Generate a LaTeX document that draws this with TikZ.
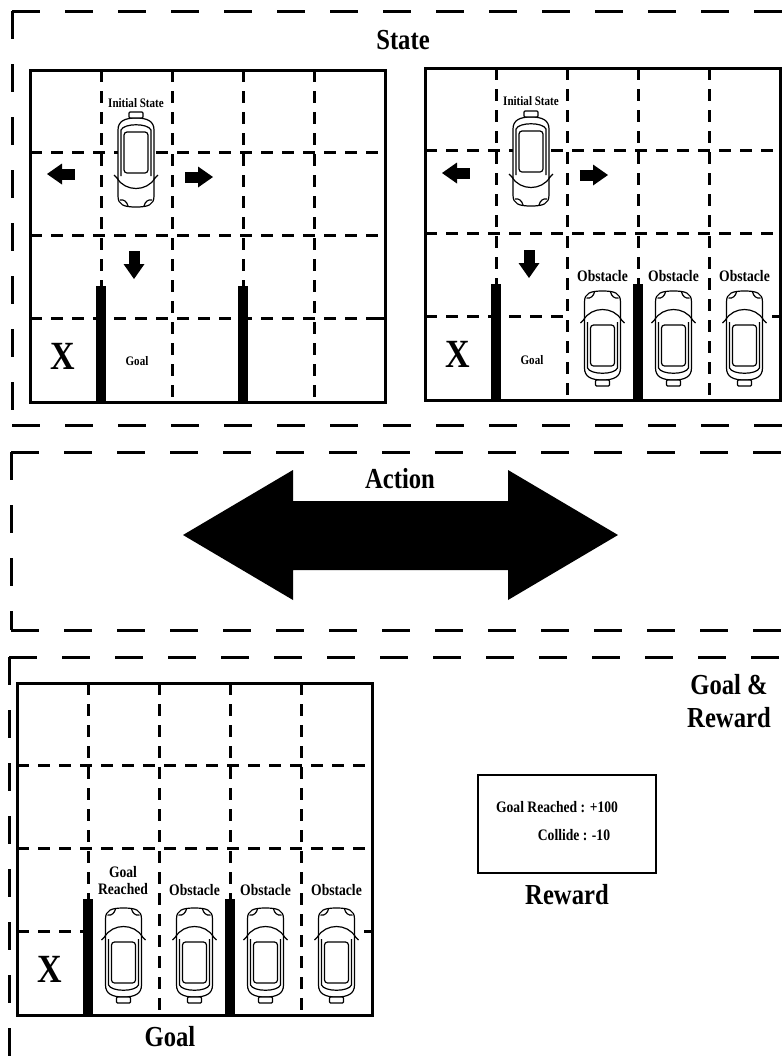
\documentclass[tikz,border=0pt]{standalone}
\usepackage{fontspec}
\setmainfont{Liberation Serif}[FakeStretch=0.85]
\usetikzlibrary{positioning}

\tikzstyle {box dash} = [line width=3, dash pattern=on 28pt off 25pt]
\tikzstyle {grid dash} = [line width=3, dash pattern=on 12pt off 9pt]
\tikzstyle {grid frame} = [line width=3]
\tikzstyle {car line} = [line width=1.2, line join=round]
\tikzset{
  big label/.style = {font=\bfseries\fontsize{29}{33}\selectfont, inner sep=0pt, align=center},
  cell label/.style = {font=\bfseries\fontsize{16}{17}\selectfont, inner sep=0pt, align=center},
  tiny label/.style = {font=\bfseries\fontsize{13}{15}\selectfont, inner sep=0pt},
  cross label/.style = {font=\bfseries\fontsize{40}{40}\selectfont, inner sep=0pt},
  reward box/.style = {draw, line width=2.5, minimum width=178, minimum height=98},
  % car seen from above, front pointing up
  car/.pic = {
    \draw[car line, fill=white] (-18,-18) -- (-18,-36) .. controls (-18,-45) and (-12,-47) .. (0,-47)
      .. controls (12,-47) and (18,-45) .. (18,-36) -- (18,30) .. controls (18,39) and (11,42) .. (0,42)
      .. controls (-11,42) and (-18,39) .. (-18,30) -- cycle;
    \draw[car line] (-15,-16) -- (-15,30) .. controls (-12,37) and (12,37) .. (15,30) -- (15,-16);
    \draw[car line] (-19,-18) .. controls (-11,-32) and (11,-32) .. (19,-18);
    \draw[car line] (-18,-19) -- (-22,-15) (18,-19) -- (22,-15);
    \draw[car line] (-16,-40) .. controls (-12,-39) and (-9,-42) .. (-8,-46);
    \draw[car line] (16,-40) .. controls (12,-39) and (9,-42) .. (8,-46);
    \draw[car line, rounded corners=3] (-12,-13) rectangle (12,28);
    \draw[car line, fill=white, rounded corners=1] (-7,42) rectangle (7,48);
  },
  % block arrow, tail at origin, pointing right
  move arrow/.pic = {
    \fill (0,-5.5) rectangle (13,5.5);
    \fill (13,-10.5) -- (28,0) -- (13,10.5) -- cycle;
  }
}

% common parts of a 5x4 parking lot; #1 = end of the lowest dashed row line
\newcommand{\parklot}[1]{
  \foreach \y in {82,165} \draw[grid dash] (0,\y) -- (355,\y);
  \draw[grid dash] (0,248) -- (#1,248);
  \draw[grid dash] (347,248) -- (355,248);
  \foreach \x in {71,142,213,284} \draw[grid dash] (\x,0) -- (\x,332);
  \draw[grid frame] (0,0) rectangle (355,332);
  \fill (66,216) rectangle (76,332);
  \fill (208,216) rectangle (218,332);
  \node[cross label] (x) at (33,286) {X};
}

\begin{document}
\begin{tikzpicture}[x=1pt, y=-1pt]
  \useasboundingbox (0,0) rectangle (784,1061);
  \clip (0,0) rectangle (784,1061);

  % dashed frames
  \draw[box dash] (12,11) -- (800,11);
  \draw[box dash] (12,11) -- (12,425);
  \draw[box dash] (12,425) -- (800,425);
  \draw[box dash] (11,452) -- (800,452);
  \draw[box dash] (11,452) -- (11,630);
  \draw[box dash] (11,630) -- (800,630);
  \draw[box dash] (9,657) -- (800,657);
  \draw[box dash] (9,657) -- (9,1070);

  \node[big label] (state) at (403,40) {State};

  % first state
  \begin{scope}[shift={(30,70)}]
    \parklot{355}
    \node[tiny label] (init1) at (106,33) {Initial State};
    \pic[rotate=180] at (106,90) {car};
    \pic[rotate=180] at (45,104) {move arrow};
    \pic at (155,107) {move arrow};
    \pic[rotate=-90] at (104,181) {move arrow};
    \node[tiny label] (goal1) at (107,291) {Goal};
  \end{scope}

  % second state, with obstacles
  \begin{scope}[shift={(425,68)}]
    \parklot{142}
    \node[tiny label] (init2) at (106,33) {Initial State};
    \pic[rotate=180] at (106,91) {car};
    \pic[rotate=180] at (45,105) {move arrow};
    \pic at (155,107) {move arrow};
    \pic[rotate=-90] at (104,182) {move arrow};
    \node[tiny label] (goal2) at (107,292) {Goal};
    \foreach \c in {177.5,248.5,319.5} {
      \node[cell label] at (\c,208) {Obstacle};
      \pic at (\c,270) {car};
    }
  \end{scope}

  % action
  \fill (183,535) -- (293,470) -- (293,501) -- (508,501) -- (508,470) -- (618,535)
    -- (508,600) -- (508,570) -- (293,570) -- (293,600) -- cycle;
  \node[big label] (action) at (400,479) {Action};

  % goal state
  \begin{scope}[shift={(17,683)}]
    \parklot{71}
    \node[cell label] (reached) at (106,198) {Goal\\Reached};
    \pic at (106.5,272) {car};
    \foreach \c in {177.5,248.5,319.5} {
      \node[cell label] at (\c,207) {Obstacle};
      \pic at (\c,272) {car};
    }
  \end{scope}
  \node[big label] (goal) at (170,1037) {Goal};

  % reward
  \node[big label] (goalreward) at (729,701) {Goal \&\\Reward};
  \node[reward box] (rbox) at (567,824) {};
  \node[cell label] (r1) at (557,807) {Goal Reached : +100};
  \node[cell label] (r2) at (574,835) {Collide : -10};
  \node[big label] (reward) at (567,895) {Reward};
\end{tikzpicture}
\end{document}
